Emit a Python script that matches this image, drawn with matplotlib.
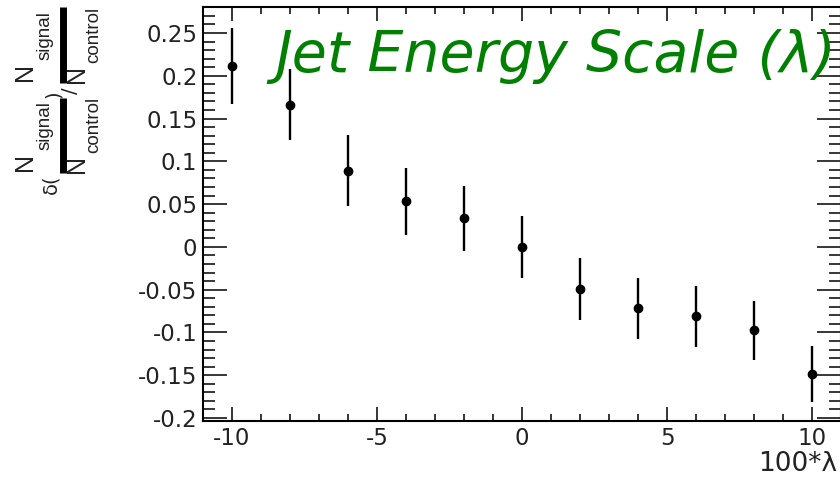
import matplotlib
matplotlib.use("Agg")
from matplotlib import pyplot as plt
from matplotlib.lines import Line2D
from matplotlib.ticker import MultipleLocator, FuncFormatter

# scan points: 100*lambda and the relative change of the signal/control ratio
shift = [-10, -8, -6, -4, -2, 0, 2, 4, 6, 8, 10]
ratio_change = [0.2116, 0.1664, 0.0888, 0.0534, 0.0332, 0.0, -0.0494, -0.0720, -0.0810, -0.0974, -0.1491]
ratio_error = [0.0442, 0.0417, 0.0415, 0.0390, 0.0380, 0.0366, 0.0360, 0.0358, 0.0356, 0.0345, 0.0327]

W, H = 840, 478
plt.rcParams['font.family'] = ['DejaVu Sans']
plt.rcParams['axes.unicode_minus'] = False

fig = plt.figure(figsize=(W / 100, H / 100), dpi=100)


def fx(px):
    return px / W


def fy(py):
    return 1 - py / H


ax = fig.add_axes([fx(203), fy(421), fx(841) - fx(203), fy(7) - fy(421)])

ax.errorbar(shift, ratio_change, yerr=ratio_error, fmt='o', color='black',
            markersize=6, elinewidth=1.7, capsize=0)

ax.set_xlim(-11, 11)
ax.set_ylim(-0.2035, 0.2804)

ax.xaxis.set_major_locator(MultipleLocator(5))
ax.xaxis.set_minor_locator(MultipleLocator(1))
ax.yaxis.set_major_locator(MultipleLocator(0.05))
ax.yaxis.set_minor_locator(MultipleLocator(0.01))
fmt = FuncFormatter(lambda v, p: '%g' % round(v, 3))
ax.xaxis.set_major_formatter(fmt)
ax.yaxis.set_major_formatter(fmt)

for s in ax.spines.values():
    s.set_linewidth(1.5)

ax.tick_params(axis='x', which='major', direction='in', length=10, width=1.1,
               top=True, labelsize=16.5, pad=4, labelcolor='#222222')
ax.tick_params(axis='x', which='minor', direction='in', length=5, width=1.1, top=True)
ax.tick_params(axis='y', which='major', direction='in', length=17, width=1.1,
               right=True, labelsize=16.5, pad=4, labelcolor='#222222')
ax.tick_params(axis='y', which='minor', direction='in', length=8.5, width=1.1, right=True)

# title inside the frame
fig.text(fx(275), fy(72), 'Jet Energy Scale (λ)', color='#008000',
         fontsize=41, style='oblique', ha='left', va='baseline')

# x axis title
fig.text(fx(837), fy(471), '100*λ', fontsize=19, color='#222222',
         ha='right', va='baseline')

# y axis title: delta(Ns/Nc) / (Ns/Nc), drawn rotated with thick fraction bars
for top, bot in [(7, 83), (98, 173)]:
    fig.add_artist(Line2D([fx(63), fx(63)], [fy(top), fy(bot)], color='black',
                          linewidth=5, transform=fig.transFigure, solid_capstyle='butt'))
    fig.text(fx(25), fy(bot - 11), 'N', fontsize=18, rotation=90,
             ha='center', va='center', color='#222222', family='Liberation Sans')
    fig.text(fx(45), fy(bot - 23), 'signal', fontsize=13.5, rotation=90,
             ha='center', va='bottom', color='#222222', family='Liberation Sans')
    fig.text(fx(77), fy(bot - 9), 'N', fontsize=18, rotation=90,
             ha='center', va='center', color='#222222', family='Liberation Sans')
    fig.text(fx(94), fy(bot - 20), 'control', fontsize=13.5, rotation=90,
             ha='center', va='bottom', color='#222222', family='Liberation Sans')

fig.text(fx(51), fy(184), 'δ(', fontsize=14, rotation=90,
         ha='center', va='center', color='#222222')
fig.text(fx(53), fy(94), ')', fontsize=14, rotation=90,
         ha='center', va='center', color='#222222')
fig.text(fx(70), fy(91), '/', fontsize=14, rotation=90,
         ha='center', va='center', color='#222222')

fig.savefig('out.png', dpi=100)
